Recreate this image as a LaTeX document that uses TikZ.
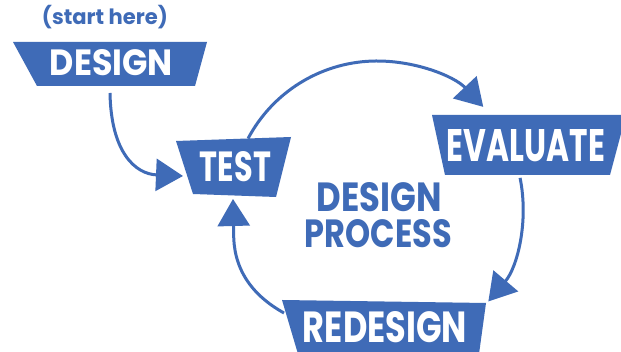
\documentclass[tikz,border=0pt]{standalone}
\usepackage{fontspec}
\usepackage{graphicx}
\usetikzlibrary{arrows.meta}
\newfontfamily\labfont{Poppins}
\definecolor{dblue}{HTML}{3F6BB7}
\begin{document}
\begin{tikzpicture}[x=1pt,y=1pt,
  box/.style={fill=dblue},
  lbl/.style={inner sep=0pt, text=white, font=\labfont\bfseries},
  blbl/.style={inner sep=0pt, text=dblue, font=\labfont\bfseries},
  arr/.style={draw=dblue, line width=3pt, -{Triangle[length=27pt,width=32pt]}}]
\useasboundingbox (0,0) rectangle (621,352);
\fill[white] (0,0) rectangle (621,352);
\clip (0,0) rectangle (621,352);
% boxes
\fill[box] (13,310) -- (207,310) -- (195,266) -- (37,266) -- cycle;
\fill[box] (176,211) -- (291,215) -- (276,155) -- (193,158) -- cycle;
\fill[box] (432,237) -- (626,237) -- (610,177) -- (445,177) -- cycle;
\fill[box] (282,52) -- (486,49) -- (479,-2) -- (298,-2) -- cycle;
% labels
\node[blbl] (start) at (105,334.5) {\resizebox{126pt}{!}{(start here)}};
\node[lbl] (design) at (111.5,289) {\resizebox{123pt}{26pt}{DESIGN}};
\node[lbl] (test) at (235.5,185) {\resizebox{71pt}{30pt}{TEST}};
\node[lbl] (evaluate) at (526,206) {\resizebox{158pt}{32pt}{EVALUATE}};
\node[lbl] (redesign) at (385,24.5) {\resizebox{164pt}{31pt}{REDESIGN}};
\node[blbl] (title1) at (379.5,154.5) {\resizebox{125pt}{29pt}{DESIGN}};
\node[blbl] (title2) at (378.5,118) {\resizebox{147pt}{28pt}{PROCESS}};
% connector ends
\coordinate (ctr) at (377,145);
\coordinate (dS) at (110,259);
\coordinate (tW) at (183,176);
\coordinate (rdL) at (284,39);
\coordinate (tB) at (233,153);
% connectors
\draw[arr] (dS) .. controls +(1,-59) and +(-48,2) .. (tW);
\draw[arr] ([shift={(152:146)}]ctr) arc[start angle=152,end angle=43.3,radius=146];
\draw[arr] ([shift={(11.5:146)}]ctr) arc[start angle=11.5,end angle=-40.3,radius=146];
\draw[arr] (rdL) .. controls +(-56,31) and +(1,-38) .. (tB);
\end{tikzpicture}
\end{document}
